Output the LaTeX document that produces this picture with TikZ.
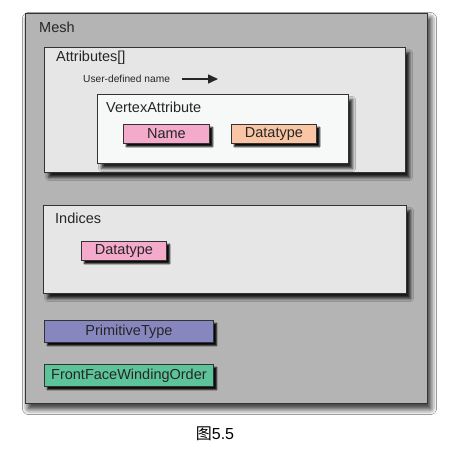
\documentclass[tikz,border=0pt]{standalone}
\usepackage{fontspec}
\setmainfont{Liberation Sans}
\newfontfamily\cjk{Noto Sans CJK SC}
\usetikzlibrary{shadows.blur,arrows.meta}
\definecolor{meshgray}{HTML}{B3B4B3}
\definecolor{attrgray}{HTML}{E6E6E6}
\definecolor{vawhite}{HTML}{F7F8F8}
\definecolor{pinkbox}{HTML}{F4AACB}
\definecolor{orangebox}{HTML}{F9C5A5}
\definecolor{purplebox}{HTML}{8787C0}
\definecolor{greenbox}{HTML}{5DC49A}
\definecolor{edge}{HTML}{333333}
\tikzset{
  bigbox/.style={draw=edge, line width=1pt, anchor=north west, inner sep=0pt,
    blur shadow={shadow xshift=4pt, shadow yshift=-5pt, shadow blur radius=3pt, shadow opacity=85, shadow blur extra rounding=0pt}},
  smallbox/.style={draw=edge, line width=0.9pt, anchor=north west, inner sep=0pt,
    font=\fontsize{14.5}{16}\selectfont, text=black!85,
    blur shadow={shadow xshift=3pt, shadow yshift=-3pt, shadow blur radius=1pt, shadow opacity=95, shadow blur extra rounding=0pt}},
  lbl/.style={anchor=west, inner sep=0pt, font=\fontsize{14.5}{16}\selectfont, text=black!85},
}
\begin{document}
\begin{tikzpicture}[x=1pt,y=-1pt]
\useasboundingbox (0,0) rectangle (452,455);
\fill[white] (0,0) rectangle (452,455);
\node[bigbox, fill=meshgray, minimum width=402pt, minimum height=390pt,
  blur shadow={shadow xshift=3pt, shadow yshift=-5pt, shadow blur radius=6pt, shadow opacity=55, shadow blur extra rounding=0pt}] (mesh) at (25,13) {};
\node[lbl] (meshl) at (39,27) {Mesh};
\node[bigbox, fill=attrgray, minimum width=361pt, minimum height=125pt] (attr) at (44,47) {};
\node[lbl] (attrl) at (56,58) {Attributes[]};
\node[anchor=west, inner sep=0pt, font=\fontsize{10.2}{12}\selectfont, text=black!85] (udn) at (83,79) {User-defined name};
\coordinate (arrS) at (182,79);
\coordinate (arrE) at (218,79);
\draw[line width=1.4pt, black!85, -{Triangle[length=10pt,width=9pt]}] (arrS) -- (arrE);
\node[bigbox, fill=vawhite, minimum width=251pt, minimum height=69pt] (va) at (97,94) {};
\node[lbl] (val) at (106,107) {VertexAttribute};
\node[smallbox, fill=pinkbox, minimum width=86pt, minimum height=19pt] (name) at (123,124) {Name};
\node[smallbox, fill=orangebox, minimum width=85pt, minimum height=19pt] (dt1) at (231,124) {Datatype};
\node[bigbox, fill=attrgray, minimum width=363pt, minimum height=88pt] (ind) at (43,205) {};
\node[lbl] (indl) at (55,218) {Indices};
\node[smallbox, fill=pinkbox, minimum width=85pt, minimum height=19pt] (dt2) at (81,241) {Datatype};
\node[smallbox, fill=purplebox, minimum width=169pt, minimum height=22pt] (prim) at (44,320) {PrimitiveType};
\node[smallbox, fill=greenbox, minimum width=169pt, minimum height=22pt] (ffwo) at (44,364) {FrontFaceWindingOrder};
\node[inner sep=0pt, font=\fontsize{16}{18}\selectfont] (cap) at (215,434) {{\cjk 图}5.5};
\end{tikzpicture}
\end{document}
